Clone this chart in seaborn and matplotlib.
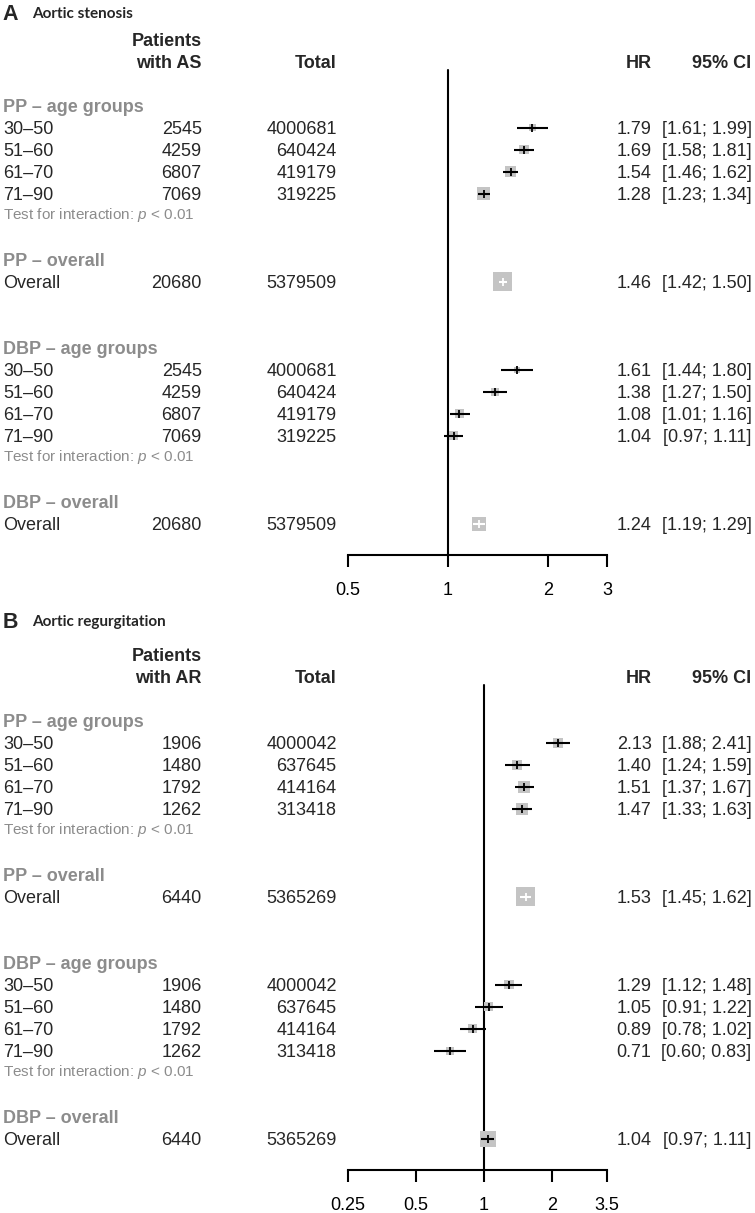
import numpy as np
import pandas as pd
import matplotlib
matplotlib.use("Agg")
import matplotlib.pyplot as plt
import matplotlib.transforms as mtransforms
from matplotlib.ticker import NullLocator, FixedLocator
import seaborn as sns

# ---------------- data ----------------
age_groups = ["30–50", "51–60", "61–70", "71–90"]

# Panel A: aortic stenosis
as_patients = [2545, 4259, 6807, 7069]
as_totals = [4000681, 640424, 419179, 319225]
as_overall_patients = 20680
as_overall_total = 5379509
as_pp_hr = [1.79, 1.69, 1.54, 1.28]
as_pp_lo = [1.61, 1.58, 1.46, 1.23]
as_pp_hi = [1.99, 1.81, 1.62, 1.34]
as_pp_overall = [1.46, 1.42, 1.50]
as_dbp_hr = [1.61, 1.38, 1.08, 1.04]
as_dbp_lo = [1.44, 1.27, 1.01, 0.97]
as_dbp_hi = [1.80, 1.50, 1.16, 1.11]
as_dbp_overall = [1.24, 1.19, 1.29]
as_ticks = [0.5, 1, 2, 3]

# Panel B: aortic regurgitation
ar_patients = [1906, 1480, 1792, 1262]
ar_totals = [4000042, 637645, 414164, 313418]
ar_overall_patients = 6440
ar_overall_total = 5365269
ar_pp_hr = [2.13, 1.40, 1.51, 1.47]
ar_pp_lo = [1.88, 1.24, 1.37, 1.33]
ar_pp_hi = [2.41, 1.59, 1.67, 1.63]
ar_pp_overall = [1.53, 1.45, 1.62]
ar_dbp_hr = [1.29, 1.05, 0.89, 0.71]
ar_dbp_lo = [1.12, 0.91, 0.78, 0.60]
ar_dbp_hi = [1.48, 1.22, 1.02, 0.83]
ar_dbp_overall = [1.04, 0.97, 1.11]
ar_ticks = [0.25, 0.5, 1, 2, 3.5]

interaction_text = "Test for interaction: $p$ < 0.01"

# ---------------- style ----------------
sns.set_theme(style="white")
plt.rcParams['font.family'] = ['Liberation Sans', 'DejaVu Sans']
plt.rcParams['mathtext.fontset'] = 'custom'
plt.rcParams['mathtext.rm'] = 'Liberation Sans'
plt.rcParams['mathtext.it'] = 'Liberation Sans:italic'

W, H = 755, 1213
fig = plt.figure(figsize=(W / 100, H / 100), dpi=100)

ROW0 = 39.7      # px of first header row below panel top
ROWH = 22.0      # px per row
FS = 13
GREY_TXT = '#8c8c8c'
SQ = '#c4c4c4'
AX_L, AX_R = 347.8, 607.0
AXIS_OFF = 555.0
BASE = 0.29      # baseline offset (rows) from visual centre


def fx(px):
    return px / W


def panel(top, title_y, letter, title, short, patients, totals, ov_pat, ov_tot,
          pp, pp_ov, dbp, dbp_ov, ticks, white_flags):
    axis_px = top + AXIS_OFF
    ax = fig.add_axes([fx(AX_L), 1 - axis_px / H, fx(AX_R) - fx(AX_L), AXIS_OFF / H])
    k_bot = (AXIS_OFF - ROW0) / ROWH
    k_top = -ROW0 / ROWH
    ax.set_xscale('log')
    ax.set_xlim(ticks[0], ticks[-1])
    ax.set_ylim(k_bot, k_top)
    ax.patch.set_alpha(0)
    sns.despine(ax=ax, left=True, top=True, right=True)
    ax.spines['bottom'].set_linewidth(1.5)
    ax.spines['bottom'].set_color('black')
    ax.xaxis.set_major_locator(FixedLocator(ticks))
    ax.xaxis.set_minor_locator(NullLocator())
    ax.set_xticklabels([f"{t:g}" for t in ticks])
    ax.tick_params(axis='x', direction='out', length=8.5, width=1.5, color='black',
                   labelsize=FS, pad=11, bottom=True, labelcolor='black')
    ax.set_yticks([])
    ax.grid(False)

    # reference line at HR = 1
    top_frac = (AXIS_OFF - 70.0) / AXIS_OFF
    ax.axvline(1, ymin=0, ymax=top_frac, color='black', lw=1.5, zorder=1)

    tr = mtransforms.blended_transform_factory(fig.transFigure, ax.transData)

    def txt(xpx, k, s, ha='left', **kw):
        ax.text(fx(xpx), k + BASE, s, transform=tr, ha=ha, va='baseline',
                fontsize=kw.pop('fontsize', FS), clip_on=False, **kw)

    # title
    fig.text(fx(2.5), 1 - (title_y + 7.0) / H, letter, fontsize=15.5, fontweight='bold',
             ha='left', va='baseline')
    fig.text(fx(32), 1 - (title_y + 5.5) / H, title, fontsize=11, fontweight='bold',
             family=['Lato', 'DejaVu Sans'], ha='left', va='baseline')

    # headers
    txt(201.7, 0, "Patients", ha='right', fontweight='bold')
    txt(201.7, 1, f"with {short}", ha='right', fontweight='bold')
    txt(336.7, 1, "Total", ha='right', fontweight='bold')
    txt(651.5, 1, "HR", ha='right', fontweight='bold')
    txt(751.5, 1, "95% CI", ha='right', fontweight='bold')

    # build rows
    rows = []
    k = 3
    sections = [("PP – age groups", pp, None, 0), ("PP – overall", None, pp_ov, 1),
                ("DBP – age groups", dbp, None, 2), ("DBP – overall", None, dbp_ov, 1)]
    ov_i = 0
    for name, grp, ov, gap in sections:
        k += gap
        txt(3, k, name, color=GREY_TXT, fontweight='bold')
        k += 1
        if grp is not None:
            hr, lo, hi = grp
            for i, lab in enumerate(age_groups):
                txt(3, k, lab)
                txt(201.7, k, f"{patients[i]}", ha='right')
                txt(336.7, k, f"{totals[i]}", ha='right')
                txt(651.5, k, f"{hr[i]:.2f}", ha='right')
                txt(751.5, k, f"[{lo[i]:.2f}; {hi[i]:.2f}]", ha='right')
                rows.append((k, hr[i], lo[i], hi[i], False))
                k += 1
            ax.text(fx(3), k - 0.1 + 0.25, interaction_text, transform=tr, ha='left',
                    va='baseline', fontsize=11, color=GREY_TXT, clip_on=False)
            k += 1
        else:
            hr, lo, hi = ov
            txt(3, k, "Overall")
            txt(201.7, k, f"{ov_pat}", ha='right')
            txt(336.7, k, f"{ov_tot}", ha='right')
            txt(651.5, k, f"{hr:.2f}", ha='right')
            txt(751.5, k, f"[{lo:.2f}; {hi:.2f}]", ha='right')
            rows.append((k, hr, lo, hi, white_flags[ov_i]))
            ov_i += 1
            k += 1

    df = pd.DataFrame(rows, columns=['k', 'hr', 'lo', 'hi', 'white'])
    prec = 1.0 / np.log(df['hi'] / df['lo'])
    size_px = 19.0 * (prec / prec.max()) ** 0.8
    df['s'] = (size_px * 0.72) ** 2

    sns.scatterplot(data=df, x='hr', y='k', s=df['s'].values, marker='s', color=SQ,
                    linewidth=0, edgecolor='none', ax=ax, legend=False, zorder=2)
    for _, r in df.iterrows():
        c = 'white' if r['white'] else 'black'
        ax.plot([r['lo'], r['hi']], [r['k'], r['k']], color=c, lw=1.5,
                solid_capstyle='butt', zorder=3)
        ax.plot([r['hr']], [r['k']], marker='|', markersize=5.5, mew=1.3, color=c,
                zorder=4)
    ax.set_xlabel('')
    ax.set_ylabel('')
    return ax


panel(0, 12.7, "A", "Aortic stenosis", "AS", as_patients, as_totals,
      as_overall_patients, as_overall_total,
      (as_pp_hr, as_pp_lo, as_pp_hi), as_pp_overall,
      (as_dbp_hr, as_dbp_lo, as_dbp_hi), as_dbp_overall, as_ticks, [True, True])
panel(615, 620.7, "B", "Aortic regurgitation", "AR", ar_patients, ar_totals,
      ar_overall_patients, ar_overall_total,
      (ar_pp_hr, ar_pp_lo, ar_pp_hi), ar_pp_overall,
      (ar_dbp_hr, ar_dbp_lo, ar_dbp_hi), ar_dbp_overall, ar_ticks, [True, False])

fig.savefig("out.png", dpi=100, facecolor='white')
